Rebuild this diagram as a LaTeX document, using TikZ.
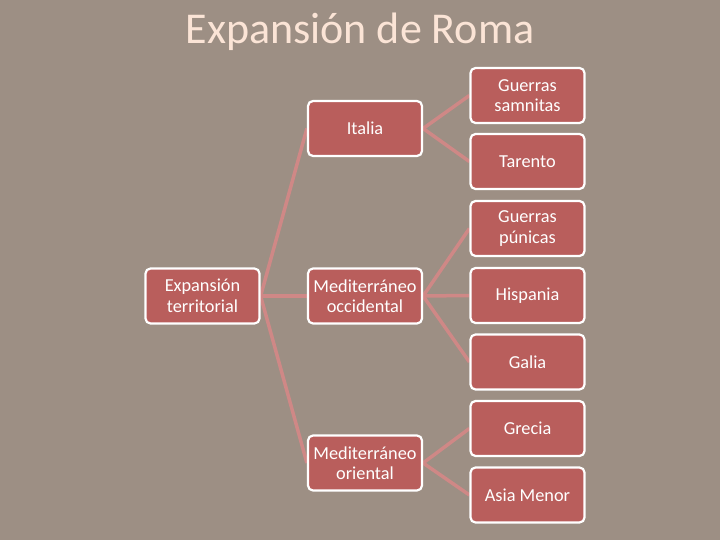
\documentclass[tikz,border=0pt]{standalone}
\usepackage{fontspec}
\setmainfont{Carlito}
\pgfdeclarelayer{bg}
\pgfdeclarelayer{edges}
\pgfsetlayers{bg,edges,main}
\definecolor{bgc}{HTML}{9D8F84}
\definecolor{boxc}{HTML}{B95E5C}
\definecolor{linec}{HTML}{CF8886}
\definecolor{titlec}{HTML}{FBE4D6}
\tikzset{
  box/.style={draw=white, line width=2.2pt, fill=boxc, rounded corners=5pt,
    minimum width=114pt, minimum height=55pt, inner sep=1pt, align=center,
    text=white, font=\fontsize{18.3}{20.5}\selectfont},
  link/.style={draw=linec, line width=3.5pt}
}
\begin{document}
\begin{tikzpicture}[x=1pt,y=-1pt]
\begin{pgfonlayer}{bg}
\fill[bgc] (0,0) rectangle (720,540);
\end{pgfonlayer}
\useasboundingbox (0,0) rectangle (720,540);
\node[text=titlec, font=\fontsize{44}{48}\selectfont] (title) at (360,32) {Expansión de Roma};
\node[box] (exp) at (202.5,296) {Expansión\\territorial};
\node[box] (ita) at (365,128.5) {Italia};
\node[box] (occ) at (365,296) {Mediterráneo\\occidental};
\node[box] (ori) at (365,463) {Mediterráneo\\oriental};
\node[box] (samn) at (527.5,95.5) {Guerras\\samnitas};
\node[box] (tar) at (527.5,161.5) {Tarento};
\node[box] (pun) at (527.5,228.5) {Guerras\\púnicas};
\node[box] (his) at (527.5,295.5) {Hispania};
\node[box] (gal) at (527.5,362) {Galia};
\node[box] (gre) at (527.5,428.5) {Grecia};
\node[box] (asia) at (527.5,495) {Asia Menor};
\begin{pgfonlayer}{edges}
\draw[link] (exp.east) -- (ita.west);
\draw[link] (exp.east) -- (occ.west);
\draw[link] (exp.east) -- (ori.west);
\draw[link] (ita.east) -- (samn.west);
\draw[link] (ita.east) -- (tar.west);
\draw[link] (occ.east) -- (pun.west);
\draw[link] (occ.east) -- (his.west);
\draw[link] (occ.east) -- (gal.west);
\draw[link] (ori.east) -- (gre.west);
\draw[link] (ori.east) -- (asia.west);
\end{pgfonlayer}
\end{tikzpicture}
\end{document}
